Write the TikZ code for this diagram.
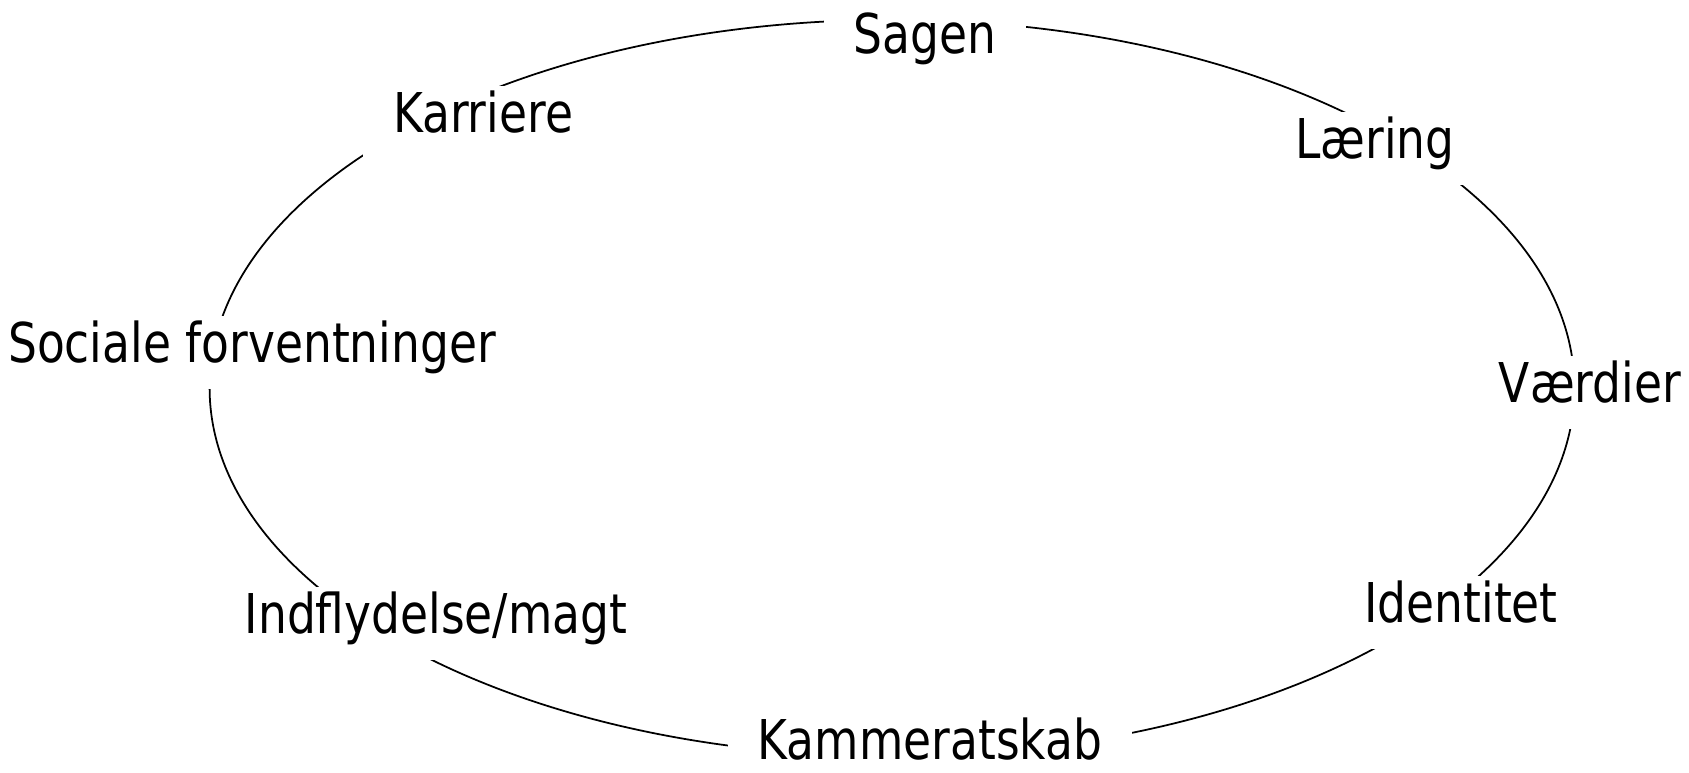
\documentclass[tikz,border=0pt]{standalone}
\usepackage{fontspec}
\setmainfont{DejaVu Sans}[FakeStretch=0.83]
\usetikzlibrary{positioning}

\begin{document}
\begin{tikzpicture}[x = 0.01cm, y = -0.01cm]
        \tikzstyle{theme} = [fill = white, anchor = base, inner xsep = 0.3cm, inner ysep = 0.18cm, text height = 0.8em, text depth = 0.25em, font = \fontsize{15.6}{18}\selectfont]
        \useasboundingbox (0,0) rectangle (1689,772);
        \coordinate (mid) at (892,388);
        \draw [line width = 0.5pt] (mid) ellipse [x radius = 6.82cm, y radius = 3.68cm];
        \node (sagen) [theme] at (925,53) {Sagen};
        \node (karriere) [theme] at (483,132) {Karriere};
        \node (laering) [theme] at (1375,158) {Læring};
        \node (sociale) [theme] at (252,362) {Sociale forventninger};
        \node (vaerdier) [theme] at (1590,402) {Værdier};
        \node (identitet) [theme] at (1461,622) {Identitet};
        \node (indflydelse) [theme] at (436,633) {Indflydelse/magt};
        \node (kammeratskab) [theme, text depth = 0pt, inner ysep = 0.04cm] at (930,759) {Kammeratskab};
    \end{tikzpicture}
\end{document}
